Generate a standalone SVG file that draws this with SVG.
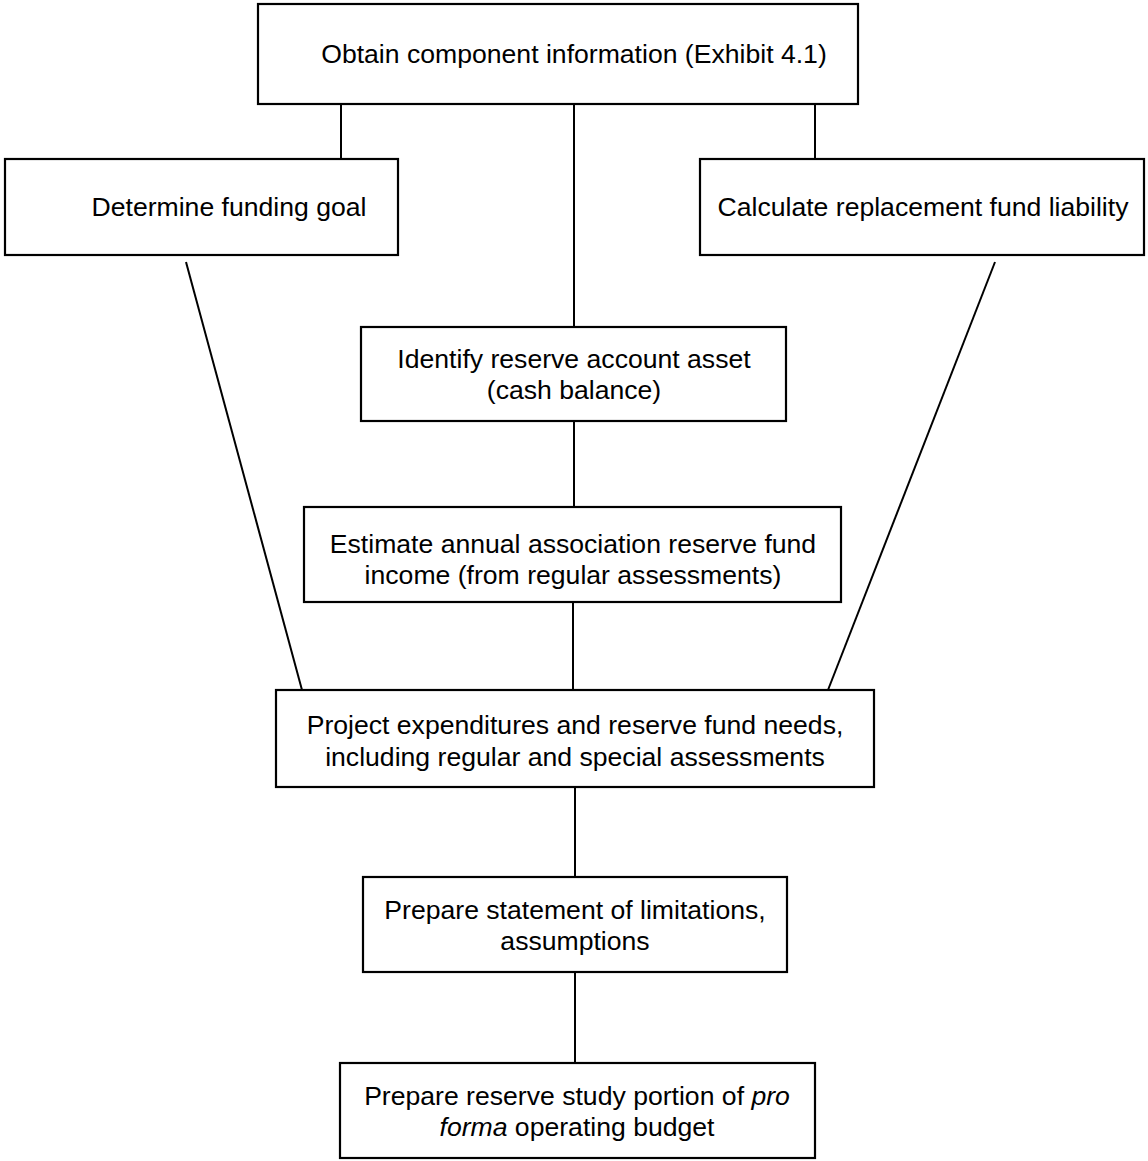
<svg xmlns="http://www.w3.org/2000/svg" width="1148" height="1161" viewBox="0 0 1148 1161">
<style>
.box{fill:#fff;stroke:#000;stroke-width:2.2}
.ln{stroke:#000;stroke-width:2;fill:none}
text{font-family:"Liberation Sans",Arial,sans-serif;font-size:26.6px;fill:#000;text-anchor:middle}
</style>
<rect width="1148" height="1161" fill="#fff"/>
<g id="connectors">
<line class="ln" x1="341" y1="104" x2="341" y2="159"/>
<line class="ln" x1="574" y1="104" x2="574" y2="327"/>
<line class="ln" x1="815" y1="104" x2="815" y2="159"/>
<line class="ln" x1="574" y1="421" x2="574" y2="507"/>
<line class="ln" x1="573" y1="602" x2="573" y2="690"/>
<line class="ln" x1="186" y1="262" x2="302" y2="690"/>
<line class="ln" x1="995" y1="262" x2="828" y2="690"/>
<line class="ln" x1="575" y1="787" x2="575" y2="877"/>
<line class="ln" x1="575" y1="972" x2="575" y2="1063"/>
</g>
<g id="n1"><rect class="box" x="258" y="4" width="600" height="100"/><text x="574" y="63">Obtain component information (Exhibit 4.1)</text></g>
<g id="n2"><rect class="box" x="5" y="159" width="393" height="96"/><text x="229" y="216">Determine funding goal</text></g>
<g id="n3"><rect class="box" x="700" y="159" width="444" height="96"/><text x="923" y="216">Calculate replacement fund liability</text></g>
<g id="n4"><rect class="box" x="361" y="327" width="425" height="94"/><text x="574" y="368">Identify reserve account asset</text><text x="574" y="399">(cash balance)</text></g>
<g id="n5"><rect class="box" x="304" y="507" width="537" height="95"/><text x="573" y="553">Estimate annual association reserve fund</text><text x="573" y="584">income (from regular assessments)</text></g>
<g id="n6"><rect class="box" x="276" y="690" width="598" height="97"/><text x="575" y="734">Project expenditures and reserve fund needs,</text><text x="575" y="766">including regular and special assessments</text></g>
<g id="n7"><rect class="box" x="363" y="877" width="424" height="95"/><text x="575" y="919">Prepare statement of limitations,</text><text x="575" y="950">assumptions</text></g>
<g id="n8"><rect class="box" x="340" y="1063" width="475" height="95"/><text x="577" y="1105">Prepare reserve study portion of <tspan font-style="italic">pro</tspan></text><text x="577" y="1136"><tspan font-style="italic">forma</tspan> operating budget</text></g>
</svg>
